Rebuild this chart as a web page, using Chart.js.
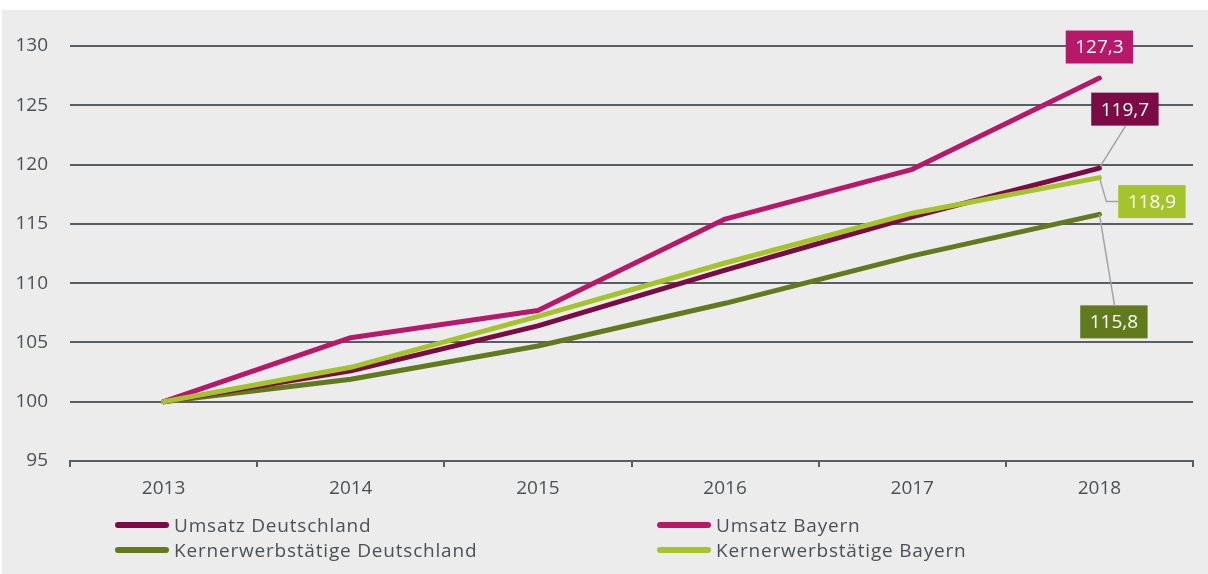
<!DOCTYPE html>
<html>
<head>
<meta charset="utf-8">
<script src="https://cdn.jsdelivr.net/npm/chart.js@4/dist/chart.umd.min.js"></script>
<style>
  body { margin: 0; background: #fff; font-family: 'Open Sans', sans-serif; }
  #panel { position: absolute; left: 2px; top: 10px; width: 1206px; height: 564px; background: #ececec; }
  #chartBox { position: absolute; left: 0; top: 0; width: 1206px; height: 500px; }
  #legend { position: absolute; left: 0; top: 0; width: 1206px; height: 564px; pointer-events: none; }
  .item { position: absolute; display: flex; align-items: center; height: 24px; font-size: 19px; letter-spacing: 0.8px; color: #4b5056; white-space: nowrap; }
  .swatch { width: 54px; height: 6px; border-radius: 3px; margin-right: 5px; }
</style>
</head>
<body>
<div id="panel">
  <div id="chartBox"><canvas id="indexChart"></canvas></div>
  <div id="legend"></div>
</div>
<script>
// Daten (2013 = 100)
const years = ['2013', '2014', '2015', '2016', '2017', '2018'];
const umsatzDeutschland = [100, 102.6, 106.4, 111.1, 115.6, 119.7];
const umsatzBayern = [100, 105.4, 107.7, 115.4, 119.6, 127.3];
const kernDeutschland = [100, 101.9, 104.7, 108.3, 112.3, 115.8];
const kernBayern = [100, 102.9, 107.2, 111.7, 115.9, 118.9];

const seriesNames = ['Umsatz Deutschland', 'Umsatz Bayern', 'Kernerwerbstätige Deutschland', 'Kernerwerbstätige Bayern'];
const seriesColors = ['#7b0a45', '#b8186a', '#617a1c', '#a5c42b'];
const seriesValues = [umsatzDeutschland, umsatzBayern, kernDeutschland, kernBayern];
const drawOrder = [2, 1, 3, 0]; // hellgruen oben

// Beschriftung am letzten Punkt: Box-Mitte relativ zum Punkt + Verbindungslinie
const labelStyle = [
    { dx: 25.5, dy: -59, path: [[1, -2], [26, -42]] },
    { dx: 0, dy: -31, path: null },
    { dx: 14.5, dy: 107.5, path: [[0, 0], [15, 90.5]] },
    { dx: 52.5, dy: 24, path: [[0, 0], [7, 24], [19, 24]] }
];

const textColor = '#4b5056';
const gridColor = '#595e63';

const endLabels = {
    id: 'endLabels',
    afterDatasetsDraw(chart) {
        const ctx = chart.ctx;
        ctx.save();
        ctx.font = '19px "Open Sans"';
        chart.data.datasets.forEach((ds, i) => {
            const meta = chart.getDatasetMeta(i);
            const last = meta.data[meta.data.length - 1];
            const px = last.x, py = last.y;
            const st = labelStyle[i];
            if (st.path) {
                ctx.strokeStyle = '#a3a3a3';
                ctx.lineWidth = 1.5;
                ctx.beginPath();
                st.path.forEach((p, k) => {
                    if (k === 0) ctx.moveTo(px + p[0], py + p[1]);
                    else ctx.lineTo(px + p[0], py + p[1]);
                });
                ctx.stroke();
            }
            const text = ds.data[ds.data.length - 1].toFixed(1).replace('.', ',');
            const w = ctx.measureText(text).width + 19;
            const h = 33;
            const cx = px + st.dx, cy = py + st.dy;
            ctx.fillStyle = ds.borderColor;
            ctx.fillRect(cx - w / 2, cy - h / 2, w, h);
            ctx.fillStyle = '#ffffff';
            ctx.textAlign = 'center';
            ctx.textBaseline = 'middle';
            ctx.fillText(text, cx, cy + 1);
        });
        ctx.restore();
    }
};

new Chart(document.getElementById('indexChart'), {
    type: 'line',
    data: {
        labels: years,
        datasets: seriesNames.map((name, i) => ({
            label: name,
            data: seriesValues[i],
            borderColor: seriesColors[i],
            backgroundColor: seriesColors[i],
            borderWidth: 5,
            borderCapStyle: 'round',
            borderJoinStyle: 'round',
            pointRadius: 0,
            tension: 0,
            order: drawOrder[i]
        }))
    },
    options: {
        responsive: true,
        maintainAspectRatio: false,
        animation: false,
        layout: { padding: { top: 36, right: 15, left: 0, bottom: 0 } },
        plugins: {
            legend: { display: false },
            tooltip: { enabled: false }
        },
        scales: {
            x: {
                offset: true,
                grid: { offset: true, drawOnChartArea: false, drawTicks: true, tickLength: 6, color: gridColor, lineWidth: 2 },
                border: { display: true, color: gridColor, width: 2 },
                ticks: { color: textColor, font: { family: 'Open Sans', size: 19 }, padding: 10 },
                afterFit(scale) { scale.height = 49; }
            },
            y: {
                min: 95,
                max: 130,
                ticks: { stepSize: 5, color: textColor, font: { family: 'Open Sans', size: 19 }, padding: 22 },
                grid: { color: gridColor, lineWidth: 2, drawTicks: false },
                border: { display: false },
                afterFit(scale) { scale.width = 68; }
            }
        }
    },
    plugins: [endLabels]
});

// Legende in zwei Spalten
const legendPos = [[113, 503], [655, 503], [113, 528], [655, 528]];
const legendEl = document.getElementById('legend');
seriesNames.forEach((name, i) => {
    const item = document.createElement('div');
    item.className = 'item';
    item.style.left = legendPos[i][0] + 'px';
    item.style.top = legendPos[i][1] + 'px';
    item.innerHTML = '<span class="swatch" style="background:' + seriesColors[i] + '"></span>' + name;
    legendEl.appendChild(item);
});
</script>
</body>
</html>
